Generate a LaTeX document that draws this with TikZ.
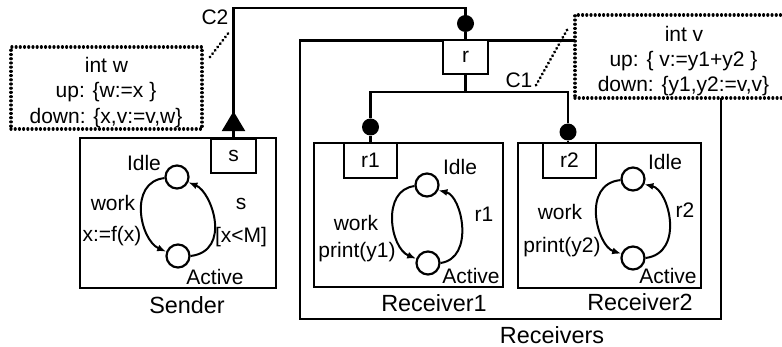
\documentclass[tikz,border=0pt]{standalone}
\usepackage{fontspec}
\setmainfont{Liberation Sans}
\usetikzlibrary{arrows.meta}
\begin{document}
\begin{tikzpicture}[x=1pt,y=-1pt,
  conn/.style={line width=2.8pt, line join=miter},
  bigbox/.style={draw, line width=2.7pt, inner sep=0pt},
  portbox/.style={draw, line width=1.6pt, fill=white, inner sep=0pt, font=\fontsize{21pt}{25pt}\selectfont},
  state/.style={circle, draw, line width=2.2pt, minimum size=23pt, inner sep=0pt, fill=white},
  trans/.style={line width=2pt, -{Latex[length=9pt,width=7pt]}},
  ball/.style={circle, fill=black, minimum size=17pt, inner sep=0pt},
  note/.style={draw, line width=3.2pt, dash pattern=on 0.01pt off 4.2pt, line cap=round, fill=white, inner sep=0pt},
  leader/.style={line width=3.2pt, dash pattern=on 0.01pt off 4.2pt, line cap=round},
  lbl/.style={inner sep=0pt, font=\fontsize{21pt}{25pt}\selectfont},
  ttl/.style={inner sep=0pt, font=\fontsize{23.4pt}{27pt}\selectfont}]
\useasboundingbox (0,0) rectangle (782,347);

% boxes
\node[bigbox, minimum width=421pt, minimum height=278.5pt] (recvs) at (510.5,179.75) {};
\node[bigbox, minimum width=196pt, minimum height=150pt] (sender) at (178,213) {};
\node[bigbox, minimum width=189pt, minimum height=144pt] (recv1) at (408.5,215) {};
\node[bigbox, minimum width=183pt, minimum height=145pt] (recv2) at (609.5,215.5) {};

% notes
\node[note, minimum width=217pt, minimum height=83pt] (notev) at (683.5,56.5) {};
\node[note, minimum width=191pt, minimum height=82pt] (notew) at (106.5,88) {};
\node[lbl, anchor=base] (wl1) at (106.5,72.7) {int w};
\node[lbl, anchor=base] (wl2) at (106,98) {up: \{w:=x \}};
\node[lbl, anchor=base] (wl3) at (106,123.5) {down: \{x,v:=v,w\}};
\node[lbl, anchor=base] (vl1) at (684,42) {int v};
\node[lbl, anchor=base] (vl2) at (683.5,67) {up: \{ v:=y1+y2 \}};
\node[lbl, anchor=base] (vl3) at (683.5,92) {down: \{y1,y2:=v,v\}};

% ports
\node[portbox, minimum width=45pt, minimum height=34pt] (s) at (233.5,156) {s};
\node[portbox, minimum width=45pt, minimum height=33.5pt] (r) at (465.5,57.25) {r};
\node[portbox, minimum width=53pt, minimum height=35pt] (r1) at (370.5,160.5) {r1};
\node[portbox, minimum width=53pt, minimum height=35pt] (r2) at (569.5,160.5) {r2};

% balls
\node[ball] (b0) at (465.5,23.5) {};
\node[ball] (b1) at (370.5,127) {};
\node[ball] (b2) at (568,132) {};

% connector C2
\coordinate (c2a) at (233.5,8);
\coordinate (c2b) at (465.5,8);
\draw[conn] (s.north) -- (c2a) -- (c2b) -- (b0);
\draw[conn, -{Triangle[width=23pt,length=20pt]}] (s.north) -- ++(0,-27);
\draw[conn] (b0) -- (r.north);
\node[lbl, anchor=base] (c2) at (215,25) {C2};

% connector C1
\coordinate (bus) at (465.5,92);
\draw[conn] (r.south) -- (bus);
\draw[conn] (b1) |- (bus) -| (b2);
\draw[conn] (b1) -- (r1.north);
\draw[conn] (b2) -- (b2 |- r2.north);
\node[lbl, anchor=base] (c1) at (519,88) {C1};

% leaders
\coordinate (lw1) at (210,57);
\coordinate (lw2) at (230,31);
\draw[leader] (lw1) -- (lw2);
\coordinate (lv1) at (567,30);
\coordinate (lv2) at (535,87);
\draw[leader] (lv1) -- (lv2);

% Sender state machine
\node[state] (si) at (177,177) {};
\node[state] (sa) at (178,256) {};
\draw[trans] (si.185) .. controls (128,182) and (140,240) .. (sa.160);
\draw[trans] (sa.east) .. controls (232,251) and (212,192) .. (si.-25);
\node[lbl] (sidle) at (144,163) {Idle};
\node[lbl] (swork) at (113,203) {work};
\node[lbl] (sfx) at (112,236) {x:=f(x)};
\node[lbl] (ss) at (241,204) {s};
\node[lbl] (sxm) at (241,237) {[x<M]};
\node[lbl] (sact) at (215,277) {Active};

% Receiver1 state machine
\node[state] (i1) at (427,185) {};
\node[state] (a1) at (428,263) {};
\draw[trans] (i1.185) .. controls (381,190) and (390,248) .. (a1.160);
\draw[trans] (a1.east) .. controls (475,258) and (462,196) .. (i1.-25);
\node[lbl] (idle1) at (460,167) {Idle};
\node[lbl] (work1) at (356,223) {work};
\node[lbl] (pr1) at (357,252) {print(y1)};
\node[lbl] (rr1) at (484,214) {r1};
\node[lbl] (act1) at (471,276) {Active};

% Receiver2 state machine
\node[state] (i2) at (633,179) {};
\node[state] (a2) at (633,258) {};
\draw[trans] (i2.185) .. controls (581,184) and (597,246) .. (a2.160);
\draw[trans] (a2.east) .. controls (685,253) and (669,190) .. (i2.-25);
\node[lbl] (idle2) at (665,162) {Idle};
\node[lbl] (work2) at (560,212) {work};
\node[lbl] (pr2) at (562,247) {print(y2)};
\node[lbl] (rr2) at (685,210) {r2};
\node[lbl] (act2) at (668,276) {Active};

% titles
\node[ttl] (tsender) at (187,305) {Sender};
\node[ttl] (trecv1) at (434,303) {Receiver1};
\node[ttl] (trecv2) at (640,302) {Receiver2};
\node[ttl] (trecvs) at (552,335) {Receivers};
\end{tikzpicture}
\end{document}
